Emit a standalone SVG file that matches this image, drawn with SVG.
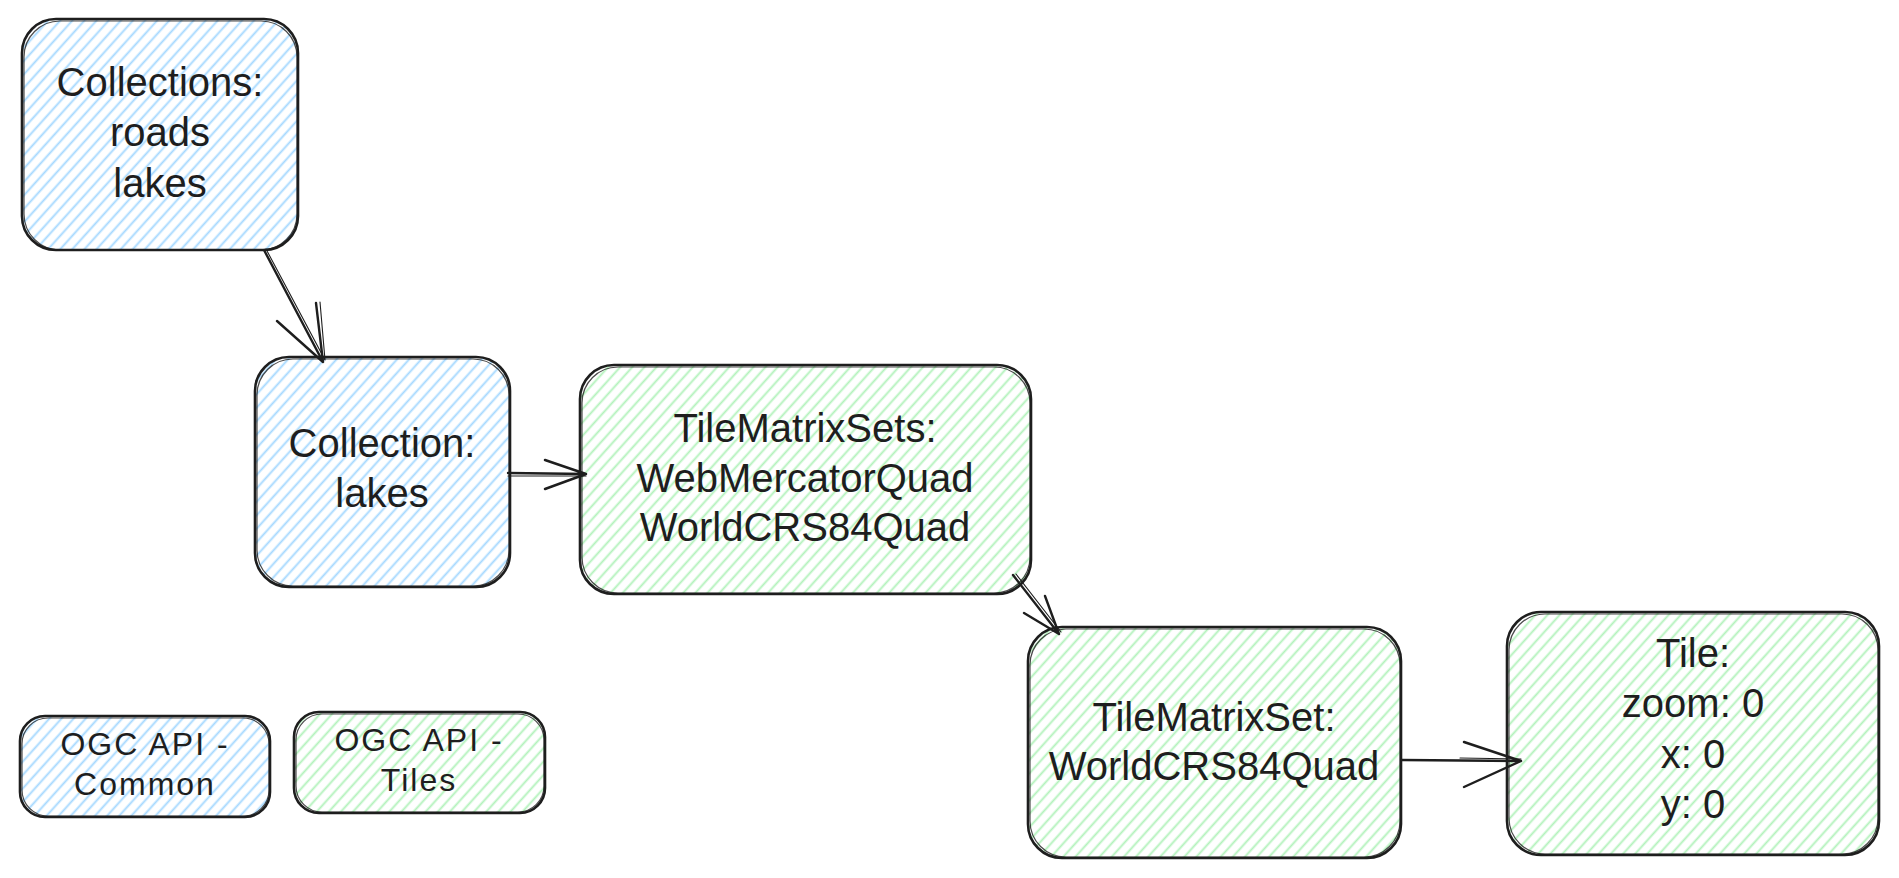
<svg xmlns="http://www.w3.org/2000/svg" width="1899" height="878" viewBox="0 0 1899 878">
<defs>
<pattern id="hb" patternUnits="userSpaceOnUse" width="9" height="9" patternTransform="rotate(42)"><line x1="4.5" y1="0" x2="4.5" y2="9" stroke="#a5d8ff" stroke-width="1.9"/></pattern>
<pattern id="hg" patternUnits="userSpaceOnUse" width="9" height="9" patternTransform="rotate(42)"><line x1="4.5" y1="0" x2="4.5" y2="9" stroke="#b2f2bb" stroke-width="1.9"/></pattern>
</defs>
<style>
.box{stroke:#1e1e1e;stroke-width:2.6;stroke-linejoin:round}
.sk{fill:none;stroke:#1e1e1e;stroke-width:1.2;opacity:0.8}
.blue{fill:url(#hb)}
.green{fill:url(#hg)}
.t{font-family:"Liberation Sans",Arial,sans-serif;font-size:40px;fill:#1e1e1e;text-anchor:middle}
.s{font-family:"Liberation Sans",Arial,sans-serif;font-size:32px;fill:#1e1e1e;text-anchor:middle;letter-spacing:2px}
.c{fill:none;stroke:#1e1e1e;stroke-width:2.4;stroke-linecap:round;stroke-linejoin:round}
.c2{fill:none;stroke:#1e1e1e;stroke-width:1.1;stroke-linecap:round}
</style>
<rect width="1899" height="878" fill="#ffffff"/>

<g id="collections">
<rect class="box blue" x="22" y="19" width="276" height="231" rx="34"/>
<rect class="sk" x="24" y="21" width="273" height="229" rx="36"/>
<text class="t" x="160" y="96">Collections:</text>
<text class="t" x="160" y="146">roads</text>
<text class="t" x="160" y="197">lakes</text>
</g>

<g id="collection">
<rect class="box blue" x="255" y="357" width="255" height="230" rx="34"/>
<rect class="sk" x="257" y="359" width="252" height="227" rx="36"/>
<text class="t" x="382" y="457">Collection:</text>
<text class="t" x="382" y="507">lakes</text>
</g>

<g id="tilematrixsets">
<rect class="box green" x="580" y="365" width="451" height="229" rx="34"/>
<rect class="sk" x="582" y="367" width="448" height="226" rx="36"/>
<text class="t" x="805" y="442">TileMatrixSets:</text>
<text class="t" x="805" y="492">WebMercatorQuad</text>
<text class="t" x="805" y="541">WorldCRS84Quad</text>
</g>

<g id="tilematrixset">
<rect class="box green" x="1028" y="627" width="373" height="231" rx="34"/>
<rect class="sk" x="1030" y="629" width="370" height="228" rx="36"/>
<text class="t" x="1214" y="731">TileMatrixSet:</text>
<text class="t" x="1214" y="780">WorldCRS84Quad</text>
</g>

<g id="tile">
<rect class="box green" x="1507" y="612" width="372" height="243" rx="34"/>
<rect class="sk" x="1509" y="614" width="369" height="240" rx="36"/>
<text class="t" x="1693" y="667">Tile:</text>
<text class="t" x="1693" y="717">zoom: 0</text>
<text class="t" x="1693" y="768">x: 0</text>
<text class="t" x="1693" y="818">y: 0</text>
</g>

<g id="legend-common">
<rect class="box blue" x="20" y="716" width="250" height="101" rx="25"/>
<rect class="sk" x="22" y="718" width="247" height="98" rx="26"/>
<text class="s" x="145" y="755">OGC API -</text>
<text class="s" x="145" y="795">Common</text>
</g>

<g id="legend-tiles">
<rect class="box green" x="294" y="712" width="251" height="101" rx="25"/>
<rect class="sk" x="296" y="714" width="248" height="98" rx="26"/>
<text class="s" x="419" y="751">OGC API -</text>
<text class="s" x="419" y="791">Tiles</text>
</g>

<g id="connectors">
<path class="c" d="M264 250 L323 362 M277 321 L323 362 M316 303 L323 362"/>
<path class="c2" d="M266 249 L325 360 M320 302 L325 360"/>
<path class="c" d="M508 473 L586 474 M545 460 L586 474 M545 489 L586 474"/>
<path class="c2" d="M508 476 L586 476"/>
<path class="c" d="M1013 575 L1059 634 M1024 613 L1059 634 M1045 596 L1059 634"/>
<path class="c2" d="M1016 574 L1061 632"/>
<path class="c" d="M1402 760 L1521 761 M1464 742 L1521 761 M1464 787 L1521 761"/>
<path class="c2" d="M1460 758 L1521 759"/>
</g>
</svg>
